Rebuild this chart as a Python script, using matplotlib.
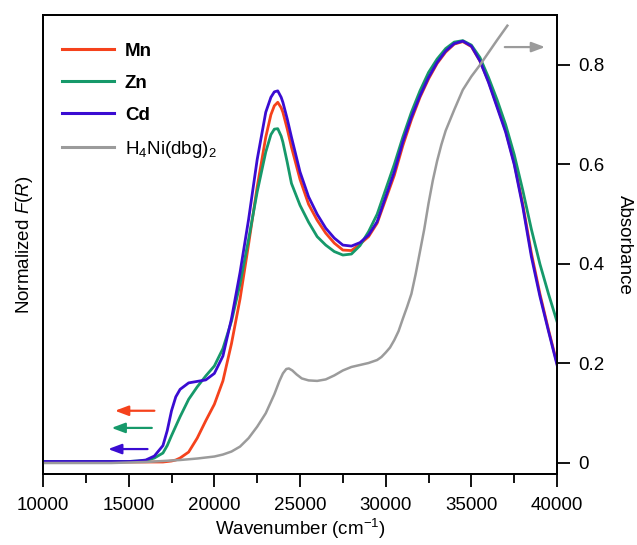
import matplotlib
matplotlib.use("Agg")
import matplotlib.pyplot as plt

plt.rcParams['font.family'] = ['Liberation Sans', 'DejaVu Sans']
plt.rcParams['mathtext.fontset'] = 'custom'
plt.rcParams['mathtext.rm'] = 'Liberation Sans'
plt.rcParams['mathtext.it'] = 'Liberation Sans:italic'
plt.rcParams['mathtext.bf'] = 'Liberation Sans:bold'

# wavenumber grid of the reflectance spectra (cm-1)
wn = [10000, 12000, 14000, 15000, 15500, 16000, 16500, 17000, 17250, 17500,
      17750, 18000, 18500, 19000, 19500, 20000, 20500, 21000, 21500, 22000,
      22500, 23000, 23300, 23500, 23700, 23900, 24000, 24250, 24500, 25000,
      25500, 26000, 26500, 27000, 27500, 28000, 28500, 29000, 29500, 30000,
      30500, 31000, 31500, 32000, 32500, 33000, 33500, 34000, 34500, 35000,
      35500, 36000, 36500, 37000, 37500, 38000, 38500, 39000, 39500, 40000]

mn = [0.002, 0.002, 0.002, 0.002, 0.002, 0.002, 0.002, 0.002, 0.003, 0.004,
      0.006, 0.01, 0.022, 0.05, 0.085, 0.118, 0.165, 0.24, 0.33, 0.44,
      0.555, 0.655, 0.70, 0.718, 0.725, 0.714, 0.705, 0.672, 0.635, 0.57,
      0.52, 0.488, 0.462, 0.442, 0.428, 0.427, 0.44, 0.455, 0.482, 0.53,
      0.578, 0.638, 0.69, 0.735, 0.772, 0.803, 0.826, 0.842, 0.847, 0.837,
      0.808, 0.767, 0.718, 0.668, 0.603, 0.52, 0.422, 0.34, 0.268, 0.20]

zn = [0.003, 0.003, 0.003, 0.003, 0.004, 0.005, 0.01, 0.02, 0.035, 0.055,
      0.074, 0.093, 0.128, 0.153, 0.175, 0.195, 0.23, 0.285, 0.36, 0.45,
      0.545, 0.625, 0.66, 0.671, 0.672, 0.657, 0.645, 0.605, 0.562, 0.518,
      0.484, 0.455, 0.438, 0.425, 0.418, 0.42, 0.437, 0.465, 0.50, 0.55,
      0.60, 0.655, 0.705, 0.748, 0.785, 0.812, 0.833, 0.846, 0.849, 0.84,
      0.815, 0.775, 0.73, 0.68, 0.62, 0.548, 0.47, 0.40, 0.34, 0.284]

cd = [0.003, 0.003, 0.003, 0.003, 0.004, 0.006, 0.014, 0.035, 0.065, 0.105,
      0.133, 0.148, 0.161, 0.164, 0.167, 0.18, 0.215, 0.29, 0.383, 0.49,
      0.61, 0.705, 0.735, 0.746, 0.748, 0.735, 0.725, 0.692, 0.655, 0.585,
      0.535, 0.50, 0.472, 0.452, 0.438, 0.436, 0.443, 0.458, 0.485, 0.535,
      0.585, 0.645, 0.695, 0.738, 0.775, 0.805, 0.828, 0.843, 0.848, 0.838,
      0.808, 0.765, 0.715, 0.665, 0.60, 0.515, 0.415, 0.335, 0.265, 0.197]

# ligand absorbance
gx = [10000, 14000, 16000, 17000, 18000, 19000, 20000, 20500, 21000, 21500,
      22000, 22500, 23000, 23500, 23800, 24000, 24200, 24350, 24550, 24800,
      25100, 25500, 26000, 26500, 27000, 27500, 28000, 28500, 29000, 29500,
      29750, 30000, 30250, 30500, 30750, 31000, 31250, 31500, 31750, 32000,
      32250, 32500, 32750, 33000, 33250, 33500, 34000, 34500, 35000, 35500,
      36000, 36500, 37100]
gy = [0.0, 0.0, 0.002, 0.004, 0.006, 0.009, 0.013, 0.017, 0.023, 0.033,
      0.05, 0.073, 0.10, 0.138, 0.165, 0.18, 0.189, 0.19, 0.186, 0.178,
      0.17, 0.166, 0.165, 0.168, 0.176, 0.186, 0.193, 0.197, 0.201, 0.207,
      0.213, 0.222, 0.232, 0.247, 0.265, 0.29, 0.314, 0.34, 0.38, 0.425,
      0.47, 0.522, 0.568, 0.607, 0.64, 0.668, 0.71, 0.75, 0.777, 0.80,
      0.825, 0.85, 0.879]

c_mn = '#F5421C'
c_zn = '#16996A'
c_cd = '#3A0CD2'
c_gr = '#9B9B9B'

fig = plt.figure(figsize=(6.37, 5.45), dpi=100)
ax = fig.add_axes([0.0675, 0.1303, 0.807, 0.8422])
ax2 = ax.twinx()

ylo, yhi = -0.0221, 0.9005
lg, = ax2.plot(gx, gy, color=c_gr, lw=1.8)
l1, = ax.plot(wn, mn, color=c_mn, lw=2.0, zorder=3)
l2, = ax.plot(wn, zn, color=c_zn, lw=2.0, zorder=4)
l3, = ax.plot(wn, cd, color=c_cd, lw=2.0, zorder=5)

ax.set_xlim(10000, 40000)
ax.set_ylim(ylo, yhi)
ax2.set_ylim(ylo, yhi)

ax.set_xticks(range(10000, 40001, 5000))
ax.set_xticks(range(12500, 40000, 5000), minor=True)
ax.tick_params(axis='x', which='major', direction='out', length=9.5, width=1.3,
               pad=7, labelsize=13.5)
ax.tick_params(axis='x', which='minor', direction='out', length=6.5, width=1.3)
ax.set_yticks([])
ax2.set_yticks([0, 0.2, 0.4, 0.6, 0.8])
ax2.set_yticklabels(['0', '0.2', '0.4', '0.6', '0.8'])
ax2.tick_params(axis='y', direction='out', length=9, width=1.3, pad=6, labelsize=13.5)
for a in (ax, ax2):
    for s in a.spines.values():
        s.set_linewidth(1.3)

ax.set_xlabel('Wavenumber (cm$^{-1}$)', fontsize=13.5, labelpad=2)
ax.set_ylabel('Normalized $F$($R$)', fontsize=13.5, labelpad=6)
ax2.set_ylabel('Absorbance', fontsize=13.5, rotation=-90, labelpad=21)

# arrows pointing to the relevant axis
arr = [(16500, 14200, 0.105, c_mn), (16350, 14000, 0.0705, c_zn),
       (16100, 13800, 0.028, c_cd), (36950, 39300, 0.836, c_gr)]
for x0, x1, yy, c in arr:
    ax.annotate('', xy=(x1, yy), xytext=(x0, yy),
                arrowprops=dict(arrowstyle='-|>,head_length=0.8,head_width=0.3',
                                color=c, lw=1.6, shrinkA=0, shrinkB=0))

leg = ax.legend([l1, l2, l3, lg], ['Mn', 'Zn', 'Cd', 'H$_4$Ni(dbg)$_2$'],
                loc='upper left', bbox_to_anchor=(0.037, 0.94), frameon=False,
                fontsize=13.5, handlelength=2.75, handletextpad=0.6,
                labelspacing=0.8, borderpad=0, borderaxespad=0)
for t in leg.get_texts()[:3]:
    t.set_fontweight('bold')
for h in leg.get_lines():
    h.set_linewidth(2.2)

fig.savefig('out.png', dpi=100)
